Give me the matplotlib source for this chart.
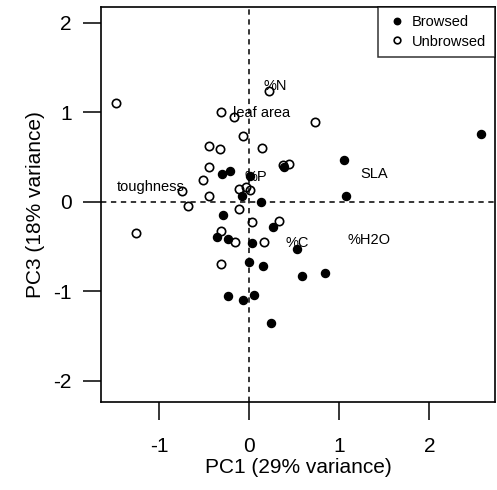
import matplotlib
matplotlib.use("Agg")
import matplotlib.pyplot as plt

plt.rcParams['font.family'] = ['Liberation Sans', 'DejaVu Sans']
plt.rcParams['axes.unicode_minus'] = False

# PCA scores
browsed_x = [0.382, -0.300, -0.214, 0.004, -0.078, 0.133, -0.289, 0.263, -0.362, -0.240,
             0.033, 0.533, -0.003, 0.152, 0.582, 0.838, -0.233, -0.070, 0.049, 0.241,
             1.056, 1.071, 2.574]
browsed_y = [0.384, 0.309, 0.343, 0.291, 0.060, -0.003, -0.145, -0.286, -0.398, -0.417,
             -0.465, -0.532, -0.674, -0.722, -0.830, -0.793, -1.050, -1.102, -1.042, -1.359,
             0.469, 0.064, 0.753]

unbrowsed_x = [-1.484, 0.219, -0.314, -0.173, -0.073, -0.448, -0.329, 0.138, 0.374, 0.441,
               -0.444, -0.518, -0.744, -0.451, -0.111, -0.033, 0.004, -0.678, -0.118, -1.262,
               0.030, 0.327, -0.318, -0.159, 0.160, -0.314, 0.730]
unbrowsed_y = [1.099, 1.240, 0.999, 0.943, 0.731, 0.622, 0.592, 0.597, 0.413, 0.418,
               0.384, 0.239, 0.116, 0.067, 0.142, 0.168, 0.134, -0.048, -0.082, -0.350,
               -0.227, -0.219, -0.324, -0.447, -0.454, -0.693, 0.887]

# trait labels
traits = ['%N', 'leaf area', '%P', 'toughness', '%C', '%H2O', 'SLA']
trait_x = [0.29, 0.14, 0.067, -1.10, 0.527, 1.33, 1.386]
trait_y = [1.29, 0.99, 0.28, 0.16, -0.465, -0.43, 0.31]

fig = plt.figure(figsize=(4.97, 4.90), dpi=100)
ax = fig.add_axes([0.2032, 0.1796, 0.7928, 0.8067])

ax.axhline(0, color='black', lw=1.1, ls=(0, (3.5, 3)), zorder=1)
ax.axvline(0, color='black', lw=1.1, ls=(0, (3.5, 3)), zorder=1)

ax.plot(browsed_x, browsed_y, 'o', color='black', markersize=5.8, ls='none',
        label='Browsed', zorder=3)
ax.plot(unbrowsed_x, unbrowsed_y, 'o', mfc='none', mec='black', mew=1.2,
        markersize=6, ls='none', label='Unbrowsed', zorder=3)

for name, tx, ty in zip(traits, trait_x, trait_y):
    ax.text(tx, ty, name, ha='center', va='center', fontsize=10.5, zorder=4)

ax.set_xlim(-1.648, 2.73)
ax.set_ylim(-2.24, 2.18)
ax.set_xticks([-1, 0, 1, 2])
ax.set_yticks([-2, -1, 0, 1, 2])
ax.tick_params(axis='both', labelsize=15, length=13, width=1.1)
ax.tick_params(axis='x', pad=12)
ax.tick_params(axis='y', pad=8)
for s in ax.spines.values():
    s.set_linewidth(1.2)

ax.set_xlabel('PC1 (29% variance)', fontsize=15, labelpad=2)
ax.set_ylabel('PC3 (18% variance)', fontsize=15, labelpad=6)

leg = ax.legend(loc='upper right', fontsize=10.5, frameon=True, fancybox=False,
                edgecolor='black', borderaxespad=0, handletextpad=0.4,
                handlelength=1.3, markerscale=0.8, borderpad=0.6, labelspacing=0.35)
leg.get_frame().set_linewidth(1.1)

fig.savefig('out.png', dpi=100)
